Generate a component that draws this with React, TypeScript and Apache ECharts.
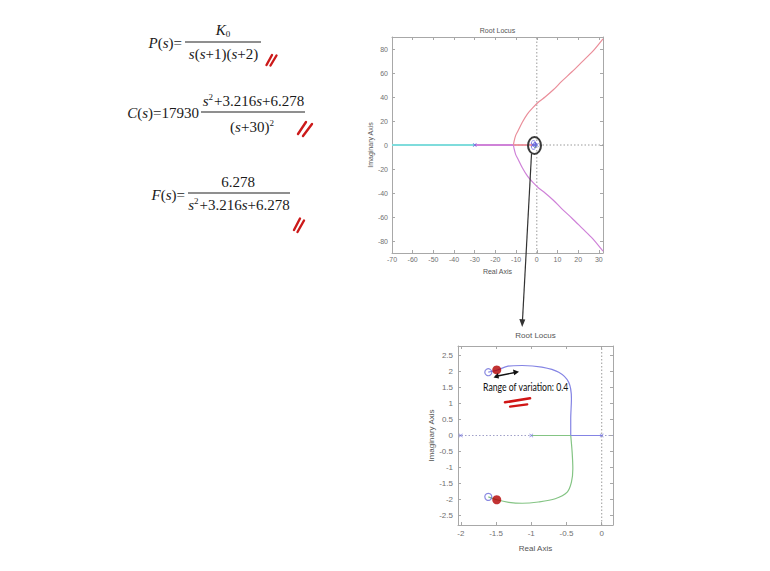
import React, { useEffect, useRef } from "react";
import * as echarts from "echarts";

// ---------- Top plot: full root locus ----------
const topXTicks = [-70, -60, -50, -40, -30, -20, -10, 0, 10, 20, 30];
const topYTicks = [-80, -60, -40, -20, 0, 20, 40, 60, 80];
const topXRange = [-70, 32];
const topYRange = [-90, 90];

const cyanReal = [[-70, 0], [-30, 0]];
const magentaReal = [[-30, 0], [-11.3, 0]];
const redReal = [[-11.3, 0], [-2, 0]];
const redUpper = [
  [-11.3, 0], [-11, 3], [-10.2, 8], [-9, 12], [-7, 19], [-4.5, 26], [-2, 31],
  [1, 36], [4, 40], [8, 46], [12, 53], [17, 61], [22, 69.5], [27, 78], [32, 88.5],
];
const magentaLower = [
  [-11.3, 0], [-11, -3], [-10.2, -8], [-9, -12], [-7, -19], [-4.5, -26], [-2, -31],
  [1, -36], [4, -40], [8, -46], [12, -53], [17, -61], [22, -69.5], [27, -78], [32, -88.5],
];
const topAxisDotsH = [[-70, 0], [32, 0]];
const topAxisDotsV = [[0, -90], [0, 90]];

// ---------- Bottom plot: zoom near origin ----------
const botXTicks = [-2, -1.5, -1, -0.5, 0];
const botYTicks = [-2.5, -2, -1.5, -1, -0.5, 0, 0.5, 1, 1.5, 2, 2.5];
const botXRange = [-2.04, 0.16];
const botYRange = [-2.8, 2.8];

const blueReal = [[0, 0], [-0.44, 0]];
const greenReal = [[-1, 0], [-0.44, 0]];
const blueUpper = [
  [-0.44, 0], [-0.44, 0.52], [-0.43, 1.15], [-0.47, 1.67], [-0.61, 1.98],
  [-0.85, 2.14], [-1.13, 2.19], [-1.33, 2.17], [-1.48, 2.05], [-1.61, 1.98],
];
const greenLower = [
  [-0.44, 0], [-0.42, -0.52], [-0.41, -1.04], [-0.43, -1.46], [-0.49, -1.77],
  [-0.66, -1.98], [-0.9, -2.08], [-1.13, -2.12], [-1.32, -2.09], [-1.49, -2.01], [-1.61, -1.92],
];
const poles = [[0, 0], [-1, 0], [-2, 0], [-30, 0]];
const zeros = [[-1.61, 1.98], [-1.61, -1.92]];
const currentPoles = [[-1.49, 2.05], [-1.49, -2.01]];
const botAxisDotsH = [[-2.04, 0], [0.16, 0]];
const botAxisDotsV = [[0, -2.8], [0, 2.8]];

const SERIF = "'Liberation Serif', 'Times New Roman', serif";
const SANS = "'Liberation Sans', Arial, sans-serif";
const CROSS = "path://M0,1L1,0L5,4L9,0L10,1L6,5L10,9L9,10L5,6L1,10L0,9L4,5Z";

function axis(gridIndex: number, range: number[], ticks: number[], position: string, showLabel: boolean, fontSize: number, margin: number, name?: string, nameGap?: number) {
  return {
    type: "value",
    gridIndex,
    min: range[0],
    max: range[1],
    position,
    name: name || "",
    nameLocation: "middle",
    nameGap: nameGap || 0,
    nameTextStyle: { fontSize: fontSize, color: "#555", fontFamily: SANS },
    axisLine: { show: true, onZero: false, lineStyle: { color: "#a8a8a8", width: 1 } },
    axisTick: { show: true, inside: true, length: 3, customValues: ticks, lineStyle: { color: "#a8a8a8" } },
    axisLabel: { show: showLabel, customValues: ticks, fontSize, color: "#707070", margin, fontFamily: SANS },
    splitLine: { show: false },
  };
}

function line(data: number[][], color: string, xi: number, width = 1.3, smooth: number | boolean = false, dotted = false) {
  return {
    type: "line", xAxisIndex: xi, yAxisIndex: xi, data, symbol: "none", smooth, silent: true,
    lineStyle: { color, width, type: dotted ? [1.5, 2] : "solid" }, z: dotted ? 1 : 2,
  };
}

function eqText(x: number, y: number, text: string, align = "center") {
  return {
    type: "text", x, y, z: 10,
    style: {
      text, align, verticalAlign: "middle", fill: "#1a1a1a",
      fontSize: 15, fontFamily: SERIF,
      rich: {
        i: { fontSize: 15, fontStyle: "italic", fontFamily: SERIF, fill: "#1a1a1a" },
        n: { fontSize: 15, fontFamily: SERIF, fill: "#1a1a1a" },
        sup: { fontSize: 9, fontFamily: SERIF, fill: "#1a1a1a", padding: [0, 1, 9, 0] },
        sub: { fontSize: 9, fontFamily: SERIF, fill: "#1a1a1a", padding: [7, 0, 0, 0] },
      },
    },
  };
}

function hline(x1: number, x2: number, y: number) {
  return { type: "line", z: 10, shape: { x1, y1: y, x2, y2: y }, style: { stroke: "#6a6a6a", lineWidth: 1.5 } };
}

function stroke(x1: number, y1: number, x2: number, y2: number, color = "#cc1a1a", w = 2.4) {
  return { type: "line", z: 12, shape: { x1, y1, x2, y2 }, style: { stroke: color, lineWidth: w, lineCap: "round" } };
}

export default function App() {
  const ref = useRef<HTMLDivElement>(null);
  useEffect(() => {
    if (!ref.current) return;
    const chart = echarts.init(ref.current, undefined, { renderer: "svg" });
    const option: any = {
      animation: false,
      backgroundColor: "#ffffff",
      grid: [
        { left: 392, top: 37, width: 211, height: 216, show: false },
        { left: 458, top: 346, width: 155, height: 179, show: false },
      ],
      xAxis: [
        axis(0, topXRange, topXTicks, "bottom", true, 7, 3, "Real Axis", 15),
        axis(0, topXRange, topXTicks, "top", false, 7, 3),
        axis(1, botXRange, botXTicks, "bottom", true, 8, 4, "Real Axis", 19),
        axis(1, botXRange, botXTicks, "top", false, 8, 4),
      ],
      yAxis: [
        axis(0, topYRange, topYTicks, "left", true, 7, 4, "Imaginary Axis", 12),
        axis(0, topYRange, topYTicks, "right", false, 7, 4),
        axis(1, botYRange, botYTicks, "left", true, 8, 5, "Imaginary Axis", 17),
        axis(1, botYRange, botYTicks, "right", false, 8, 5),
      ],
      series: [
        // top
        line(topAxisDotsH, "#9a9a9a", 0, 1, false, true),
        line(topAxisDotsV, "#9a9a9a", 0, 1, false, true),
        line(cyanReal, "#7fdcdc", 0, 1.8),
        line(magentaReal, "#cf82d8", 0, 1.8),
        line(redReal, "#ea8e9a", 0, 1.8),
        line(redUpper, "#ea8e9a", 0, 1.2, 0.3),
        line(magentaLower, "#cf82d8", 0, 1.2, 0.3),
        line(blueReal, "#7f7fe0", 0, 1.2),
        line(greenReal, "#7fc07f", 0, 1.2),
        line(blueUpper, "#7f7fe0", 0, 1.2, 0.3),
        line(greenLower, "#7fc07f", 0, 1.2, 0.3),
        {
          type: "scatter", xAxisIndex: 0, yAxisIndex: 0, data: poles, symbol: CROSS, symbolSize: 4, silent: true, z: 4,
          itemStyle: { color: "#5050dd" },
        },
        {
          type: "scatter", xAxisIndex: 0, yAxisIndex: 0, data: zeros, symbol: "circle", symbolSize: 4, silent: true, z: 4,
          itemStyle: { color: "rgba(0,0,0,0)", borderColor: "#6060dd", borderWidth: 1 },
        },
        // bottom
        line(botAxisDotsH, "#a0a0c8", 2, 1, false, true),
        line(botAxisDotsV, "#9a9a9a", 2, 1, false, true),
        line(blueReal, "#8484e4", 2, 1.2),
        line(greenReal, "#84c484", 2, 1.2),
        line(blueUpper, "#8484e4", 2, 1.2, 0.3),
        line(greenLower, "#84c484", 2, 1.2, 0.3),
        {
          type: "scatter", xAxisIndex: 2, yAxisIndex: 2, data: poles, symbol: CROSS, symbolSize: 4, silent: true, z: 4,
          itemStyle: { color: "#6a6ae0" },
        },
        {
          type: "scatter", xAxisIndex: 2, yAxisIndex: 2, data: zeros, symbol: "circle", symbolSize: 7, silent: true, z: 4,
          itemStyle: { color: "rgba(0,0,0,0)", borderColor: "#6a6ad8", borderWidth: 1.2 },
        },
        {
          type: "scatter", xAxisIndex: 2, yAxisIndex: 2, data: currentPoles, symbol: "circle", symbolSize: 9, silent: true, z: 5,
          itemStyle: { color: "#b30000" },
        },
      ],
      graphic: [
        // titles
        { type: "text", x: 497.5, y: 30, style: { text: "Root Locus", align: "center", verticalAlign: "middle", fontSize: 7, fill: "#555", fontFamily: SANS } },
        { type: "text", x: 535.5, y: 335, style: { text: "Root Locus", align: "center", verticalAlign: "middle", fontSize: 8, fill: "#555", fontFamily: SANS } },
        // Equation 1
        eqText(182, 43, "{i|P}{n|(}{i|s}{n|)=}", "right"),
        eqText(223, 30, "{i|K}{sub|0}"),
        hline(185, 261, 42),
        eqText(223.5, 54, "{i|s}{n|(}{i|s}{n|+1)(}{i|s}{n|+2)}"),
        // Equation 2
        eqText(199, 113, "{i|C}{n|(}{i|s}{n|)=17930}", "right"),
        eqText(253.5, 101, "{i|s}{sup|2}{n|+3.216}{i|s}{n|+6.278}"),
        hline(201, 305, 112),
        eqText(252.5, 127, "{n|(}{i|s}{n|+30)}{sup|2}"),
        // Equation 3
        eqText(185, 195, "{i|F}{n|(}{i|s}{n|)=}", "right"),
        eqText(238, 182, "6.278"),
        hline(188, 290, 193),
        eqText(239, 205, "{i|s}{sup|2}{n|+3.216}{i|s}{n|+6.278}"),
        // red check marks
        stroke(266.5, 65, 272, 55), stroke(270.5, 65.5, 276.5, 55.5),
        stroke(298, 134, 306, 122), stroke(303, 136, 312, 124),
        stroke(294, 230, 300, 218.5), stroke(297.5, 232, 304, 220.5),
        // circle and connector arrow
        { type: "ellipse", z: 12, shape: { cx: 534.5, cy: 145.5, rx: 6.5, ry: 8.5 }, style: { fill: "none", stroke: "#3a3a3a", lineWidth: 2 } },
        { type: "line", z: 12, shape: { x1: 531.5, y1: 154, x2: 522.5, y2: 320 }, style: { stroke: "#333", lineWidth: 1.2 } },
        { type: "polygon", z: 12, shape: { points: [[522.2, 327], [519.3, 319], [525.3, 319.4]] }, style: { fill: "#333" } },
        // annotation in bottom plot
        { type: "line", z: 12, shape: { x1: 495, y1: 376.5, x2: 515, y2: 372.5 }, style: { stroke: "#111", lineWidth: 1.4 } },
        { type: "polygon", z: 12, shape: { points: [[519, 371.8], [513, 369.5], [514.2, 375.3]] }, style: { fill: "#111" } },
        { type: "polygon", z: 12, shape: { points: [[493.5, 377.5], [498, 373], [499, 378.5]] }, style: { fill: "#111" } },
        { type: "text", z: 12, x: 483, y: 386.5, scaleX: 0.79, style: { text: "Range of variation: 0.4", align: "left", verticalAlign: "middle", fontSize: 11, fill: "#111", fontFamily: "Lato, 'Open Sans', sans-serif" } },
        stroke(505, 402.3, 530, 398.3, "#d01515", 2.6),
        stroke(510, 406.7, 527.3, 404.3, "#d01515", 2.2),
      ],
    };
    chart.setOption(option);
    return () => chart.dispose();
  }, []);
  return (
    <div
      ref={ref}
      style={{ position: "fixed", left: 0, top: 0, width: 770, height: 571, background: "#fff" }}
    />
  );
}
